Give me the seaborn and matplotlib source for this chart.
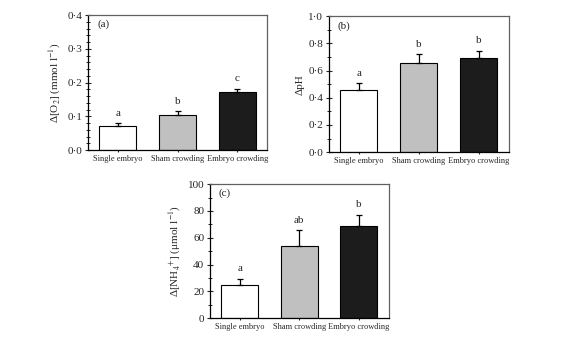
import matplotlib
matplotlib.use("Agg")
import matplotlib.pyplot as plt
from matplotlib.ticker import MultipleLocator, FuncFormatter
import seaborn as sns
import pandas as pd

# Treatment groups and measured changes (mean, upper error)
groups = ["Single embryo", "Sham crowding", "Embryo crowding"]
o2_mean = [0.070, 0.105, 0.173]
o2_err = [0.010, 0.010, 0.008]
o2_letters = ["a", "b", "c"]
ph_mean = [0.455, 0.655, 0.695]
ph_err = [0.050, 0.065, 0.050]
ph_letters = ["a", "b", "b"]
nh4_mean = [25.0, 53.5, 68.5]
nh4_err = [4.5, 12.0, 8.5]
nh4_letters = ["a", "ab", "b"]

bar_colors = ["white", "#c0c0c0", "#1c1c1c"]

sns.set_style("ticks")
plt.rcParams["font.family"] = ["Liberation Serif", "DejaVu Serif"]
plt.rcParams["mathtext.fontset"] = "stix"

fig = plt.figure(figsize=(5.61, 3.38), dpi=100)
fig.patch.set_facecolor("white")


def dot_fmt(ndec):
    def f(v, pos):
        s = f"{v:.{ndec}f}"
        return s.replace(".", "\u00b7")
    return FuncFormatter(f)


def panel(rect, means, errs, letters, tag, ylabel, ymax, major, minor, fmt):
    ax = fig.add_axes(rect)
    df = pd.DataFrame({"group": groups, "value": means})
    sns.barplot(data=df, x="group", y="value", hue="group", palette=bar_colors,
                legend=False, width=0.62, edgecolor="black", linewidth=0.8, ax=ax)
    ax.errorbar(range(len(groups)), means, yerr=[[0] * len(errs), errs], fmt="none",
                ecolor="black", elinewidth=0.9, capsize=2.5, capthick=0.9)
    for i, (m, e, lt) in enumerate(zip(means, errs, letters)):
        ax.annotate(lt, (i, m + e), xytext=(0, 4), textcoords="offset points",
                    ha="center", va="bottom", fontsize=8)
    ax.set_xlim(-0.5, 2.5)
    ax.set_ylim(0, ymax)
    ax.yaxis.set_major_locator(MultipleLocator(major))
    ax.yaxis.set_minor_locator(MultipleLocator(minor))
    ax.yaxis.set_major_formatter(fmt)
    ax.tick_params(axis="y", which="major", direction="inout", length=4, width=0.8,
                   labelsize=8, pad=2)
    ax.tick_params(axis="y", which="minor", direction="inout", length=2.5, width=0.7)
    ax.tick_params(axis="x", direction="inout", length=3, width=0.8, labelsize=6, pad=2)
    ax.set_xlabel("")
    ax.set_ylabel(ylabel, fontsize=8, labelpad=3)
    for s in ["left", "bottom"]:
        ax.spines[s].set_color("black")
        ax.spines[s].set_linewidth(0.9)
    for s in ["top", "right"]:
        ax.spines[s].set_visible(True)
        ax.spines[s].set_color("#606060")
        ax.spines[s].set_linewidth(0.9)
    ax.text(0.05, 0.93, tag, transform=ax.transAxes, fontsize=8, ha="left", va="center")
    return ax


panel([0.157, 0.556, 0.319, 0.399], o2_mean, o2_err, o2_letters, "(a)",
      "Δ[O$_2$] (mmol l$^{-1}$)", 0.4, 0.1, 0.02, dot_fmt(1))
panel([0.586, 0.550, 0.321, 0.402], ph_mean, ph_err, ph_letters, "(b)",
      "ΔpH", 1.0, 0.2, 0.1, dot_fmt(1))
panel([0.374, 0.059, 0.319, 0.396], nh4_mean, nh4_err, nh4_letters, "(c)",
      "Δ[NH$_4$$^{+}$] (μmol l$^{-1}$)", 100, 20, 10,
      FuncFormatter(lambda v, p: f"{v:.0f}"))

fig.savefig("out.png", dpi=100, facecolor="white")
